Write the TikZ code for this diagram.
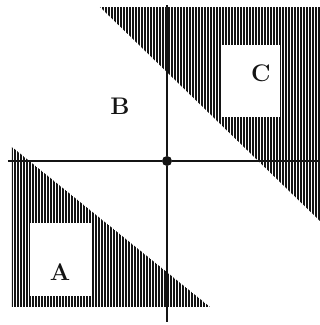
\documentclass[tikz,border=0pt]{standalone}
\usepackage{tikz}
\usetikzlibrary{positioning,calc}
\definecolor{inkblk}{RGB}{20,20,20}
\tikzset{
  hatchln/.style={inkblk, line width=1.1pt},
  axisln/.style={inkblk, line width=2.6pt},
  odot/.style={circle, fill=inkblk, inner sep=0pt, minimum size=10pt},
  boxw/.style={fill=white, draw=none},
  lbl/.style={font=\fontsize{24}{24}\selectfont\bfseries, text=inkblk},
}

\begin{document}
\begin{tikzpicture}[x=1pt, y=-1pt]
  \useasboundingbox (0,0) rectangle (320,325);
  % hatched triangles
  \begin{scope}
    \clip (100,7) -- (320,7) -- (320,221) -- cycle;
    \foreach \x in {100,103,...,320}{
      \draw[hatchln] (\x,7) -- (\x,221);}
  \end{scope}
  \begin{scope}
    \clip (12,147) -- (12,307) -- (210,307) -- cycle;
    \foreach \x in {12,15,...,210}{
      \draw[hatchln] (\x,147) -- (\x,307);}
  \end{scope}
  % white boxes
  \fill[boxw] (222,45) rectangle (280,117);
  \fill[boxw] (30,223) rectangle (92,296);
  % axes
  \node[odot] (o) at (167,161) {};
  \coordinate (xl) at (8,161);
  \coordinate (xr) at (320,161);
  \coordinate (yt) at (167,5);
  \coordinate (yb) at (167,322);
  \draw[axisln] (xl) -- (o) -- (xr);
  \draw[axisln] (yt) -- (o) -- (yb);
  % labels
  \node[lbl] (labA) at (60,272) {A};
  \node[lbl] (labB) at (120,106) {B};
  \node[lbl] (labC) at (261,73) {C};
\end{tikzpicture}
\end{document}
